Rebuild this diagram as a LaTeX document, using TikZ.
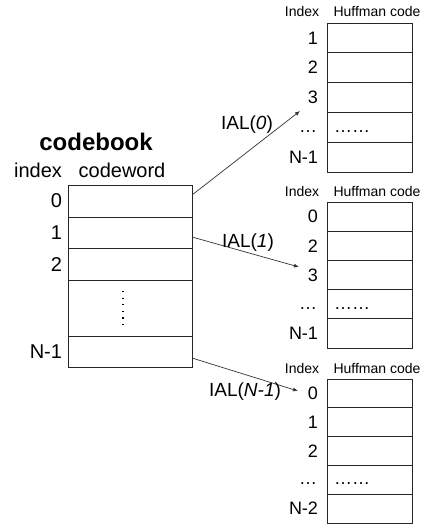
\documentclass[tikz,border=0pt]{standalone}
\usepackage{fontspec}
\setmainfont{Liberation Sans}
\usetikzlibrary{arrows.meta,calc}
\begin{document}
\begin{tikzpicture}[x=1pt,y=-1pt,
  cell/.style={draw=black!85, line width=0.8pt, inner sep=0pt, outer sep=0pt, anchor=north west},
  txt/.style={inner sep=0pt, outer sep=0pt},
  big/.style={txt, font=\fontsize{20}{24}\selectfont},
  mid/.style={txt, font=\fontsize{18}{22}\selectfont},
  ial/.style={txt, font=\fontsize{19}{23}\selectfont},
  small/.style={txt, font=\fontsize{14}{17}\selectfont},
  conn/.style={draw=black!80, line width=0.7pt, -{Latex[length=5pt,width=4pt]}}]
\useasboundingbox (0,0) rectangle (422,526);
% codebook
\node[txt, font=\fontsize{24}{28}\selectfont\bfseries] (title) at (96,142) {codebook};
\node[big] (hidx) at (38,170) {index};
\node[big] (hcw) at (122,170) {codeword};
\node[cell, minimum width=124pt, minimum height=32pt] (cb0) at (68,185) {};
\node[cell, minimum width=124pt, minimum height=31pt] (cb1) at (68,217) {};
\node[cell, minimum width=124pt, minimum height=32pt] (cb2) at (68,248) {};
\node[cell, minimum width=124pt, minimum height=56pt] (cbd) at (68,280) {};
\node[cell, minimum width=124pt, minimum height=31pt] (cbn) at (68,336) {};
\node[big, anchor=east] (l0) at (62,201) {0};
\node[big, anchor=east] (l1) at (62,233) {1};
\node[big, anchor=east] (l2) at (62,265) {2};
\node[big, anchor=east] (ln) at (62,352) {N-1};
\draw[line width=1.3pt, dash pattern=on 1.2pt off 5.4pt] (123,291) -- (123,328);
% tables
\foreach \t/\top/\h/\a/\b/\c/\d in {A/23/29.8/1/2/3/N-1, B/202/29.2/0/2/3/N-1, C/379/28.8/0/1/2/N-2}{
  \node[small] (\t hi) at (302,\top-11) {Index};
  \node[small] (\t hh) at (377,\top-11) {Huffman code};
  \foreach \r in {0,...,4}{
    \node[cell, minimum width=85pt, minimum height=\h pt] (\t\r) at (327,\top+\r*\h) {};
  }
  \node[mid, anchor=east] (\t l0) at (318,\top+0.5*\h) {\a};
  \node[mid, anchor=east] (\t l1) at (318,\top+1.5*\h) {\b};
  \node[mid, anchor=east] (\t l2) at (318,\top+2.5*\h) {\c};
  \node[mid, anchor=base east] (\t l3) at (317,\top+3.5*\h+5) {…};
  \node[mid, anchor=base west] (\t d3) at (334,\top+3.5*\h+5) {……};
  \node[mid, anchor=east] (\t l4) at (318,\top+4.5*\h) {\d};
}
% connectors
\coordinate (s0) at (192,195);
\coordinate (s1) at (192,237);
\coordinate (s2) at (192,358);
\coordinate (e0) at (300,111);
\coordinate (e1) at (299,267);
\coordinate (e2) at (298,391);
\draw[conn] (s0) -- (e0);
\draw[conn] (s1) -- (e1);
\draw[conn] (s2) -- (e2);
\node[ial] (ial0) at (247,125) {IAL(\textit{0})};
\node[ial] (ial1) at (248,243) {IAL(\textit{1})};
\node[ial] (ial2) at (245,392) {IAL(\textit{N-1})};
\end{tikzpicture}
\end{document}
